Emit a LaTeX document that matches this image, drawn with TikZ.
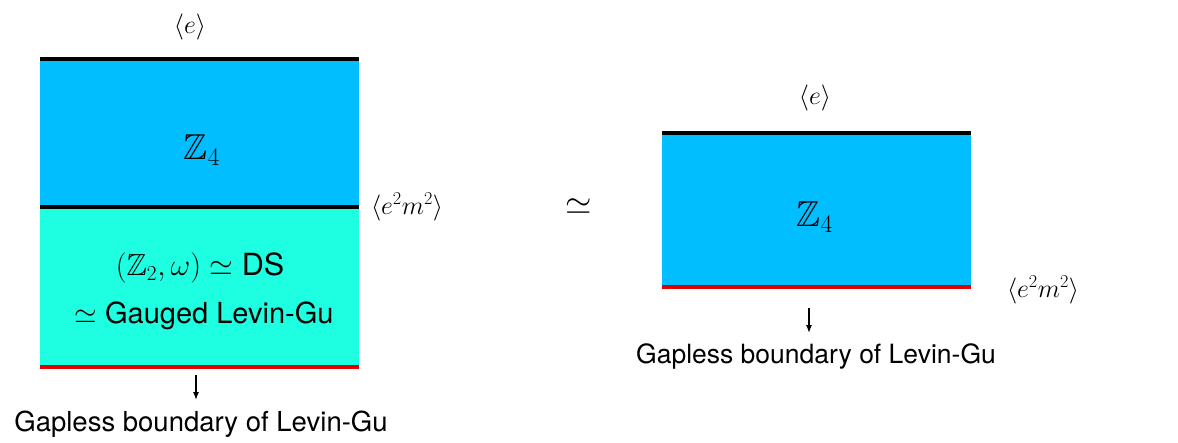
\documentclass[tikz,border=0pt]{standalone}
\usepackage{fix-cm}
\usepackage{amssymb}
\usepackage{fontspec}
\setsansfont{TeX Gyre Heros}
\usetikzlibrary{arrows.meta}
\definecolor{blueZ}{RGB}{0,190,255}
\definecolor{cyanZ}{RGB}{30,255,225}
\definecolor{redB}{RGB}{225,0,0}
\begin{document}
\begin{tikzpicture}[x=1pt,y=-1pt,
  bdry/.style={line width=4.5pt},
  lbl/.style={inner sep=0pt,font=\fontsize{26}{30}\selectfont},
  big/.style={inner sep=0pt,font=\fontsize{36}{40}\selectfont},
  txt/.style={inner sep=0pt,font=\sffamily\fontsize{27.5}{32}\selectfont},
  arr/.style={-{Latex[length=8pt,width=6pt]}, line width=1.3pt}]
\useasboundingbox (0,0) rectangle (1178,442);
% left stack
\fill[blueZ] (40,59) rectangle (359,207);
\fill[cyanZ] (40,207) rectangle (359,367);
\draw[bdry] (40,59) -- (359,59);
\draw[bdry] (40,207) -- (359,207);
\draw[bdry,redB] (40,367) -- (359,367);
\node[lbl] (eL) at (190,27) {$\langle e\rangle$};
\node[big] (z4L) at (202,150) {$\mathbb{Z}_4$};
\node[lbl] (emL) at (407,207) {$\langle e^2m^2\rangle$};
\node[txt,font=\sffamily\fontsize{30.5}{34}\selectfont] (dsL) at (200,268) {$(\mathbb{Z}_2,\omega)\simeq{}$DS};
\node[txt,font=\sffamily\fontsize{29}{34}\selectfont] (glL) at (204,316) {$\simeq$ Gauged Levin-Gu};
\coordinate (aL) at (196,375);
\draw[arr] (aL) -- ++(0,25);
\node[txt] (gapL) at (201,424) {Gapless boundary of Levin-Gu};
% equivalence
\node[inner sep=0pt,font=\fontsize{34}{38}\selectfont] (eq) at (579,207) {$\simeq$};
% right stack
\fill[blueZ] (662,133) rectangle (971,287);
\draw[bdry] (662,133) -- (971,133);
\draw[bdry,redB] (662,287) -- (971,287);
\node[lbl] (eR) at (815,98) {$\langle e\rangle$};
\node[big] (z4R) at (815,217) {$\mathbb{Z}_4$};
\node[lbl] (emR) at (1043,290) {$\langle e^2m^2\rangle$};
\coordinate (aR) at (809,308);
\draw[arr] (aR) -- ++(0,25);
\node[txt,font=\sffamily\fontsize{26.5}{30}\selectfont] (gapR) at (816,356) {Gapless boundary of Levin-Gu};
\end{tikzpicture}
\end{document}
